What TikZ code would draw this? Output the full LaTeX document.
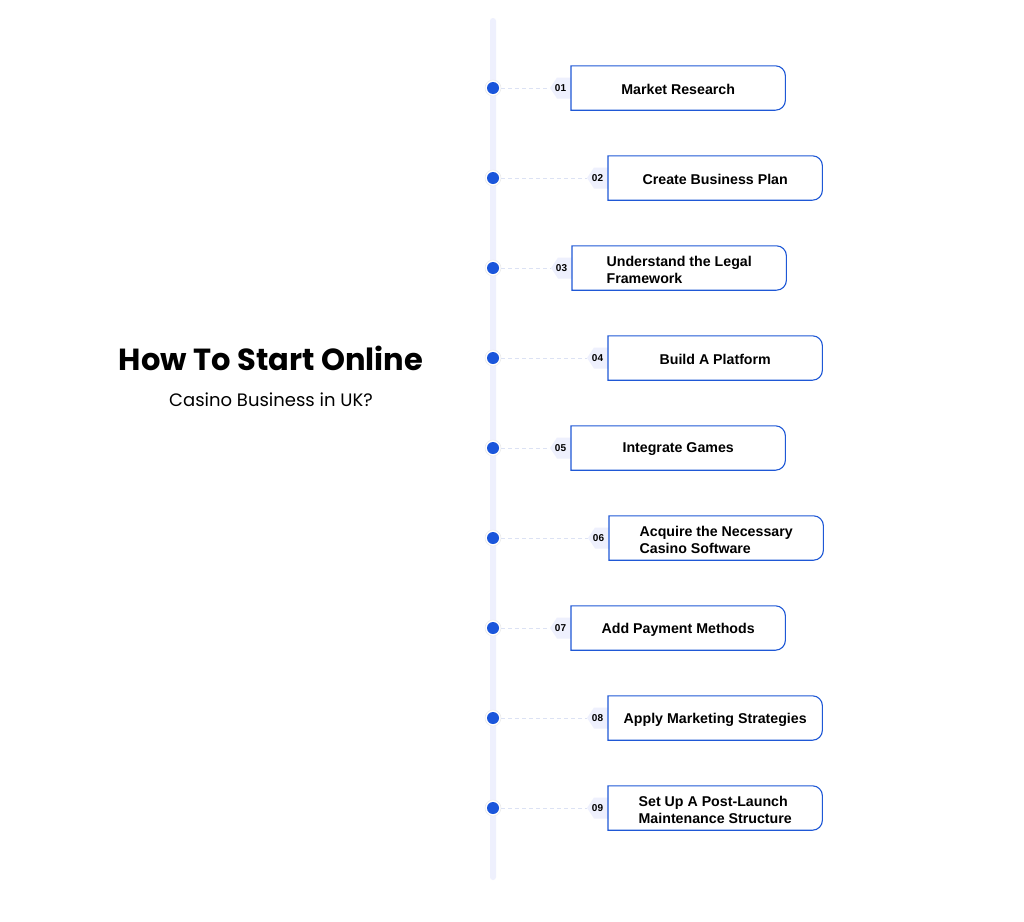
\documentclass[tikz,border=0pt]{standalone}
\usepackage{fontspec}
\setmainfont{Liberation Sans}
\newfontfamily\poppins{Poppins}
\definecolor{barcol}{HTML}{EEF0FD}
\definecolor{dotblue}{HTML}{1A56DB}
\definecolor{boxblue}{HTML}{1F58D6}
\definecolor{dashcol}{HTML}{DCE2F4}
\tikzset{
  stepbox/.style={minimum width=214pt, minimum height=44pt, inner sep=0pt},
  steplabel/.style={inner sep=0pt, font=\bfseries\fontsize{14.2}{17}\selectfont, align=left},
  numtxt/.style={font=\bfseries\fontsize{10}{11}\selectfont, inner sep=0pt},
  dotnode/.style={circle, fill=dotblue, minimum size=12pt, inner sep=0pt},
  halo/.style={circle, fill=white, draw=black!8, line width=0.6pt, minimum size=16pt, inner sep=0pt},
  conn/.style={dashcol, line width=0.9pt, dash pattern=on 4pt off 3pt},
  boxline/.style={boxblue, line width=1.1pt}
}
\newcommand{\stepitem}[5]{%
  % #1 name, #2 y, #3 box left x, #4 number, #5 text
  \node[halo] (h#1) at (493,-#2) {};
  \node[dotnode] (d#1) at (493,-#2) {};
  \node[stepbox, anchor=west] (b#1) at (#3,-#2) {};
  \node[steplabel] (l#1) at ([yshift=-1.5pt]b#1.center) {#5};
  \fill[barcol] (b#1.west) ++(0,10.5) -- ++(-14,0) -- ++(-7,-10.5) -- ++(7,-10.5) -- ++(14,0) -- cycle;
  \node[numtxt] (n#1) at ([xshift=-10.5pt,yshift=-0.5pt]b#1.west) {#4};
  \coordinate (t#1) at ([xshift=-21pt]b#1.west);
  \draw[conn] (h#1.east) -- (t#1);
  \draw[boxline] (b#1.south west) -- (b#1.north west) -- ([xshift=-10pt]b#1.north east) arc[start angle=90, end angle=0, radius=10pt] -- ([yshift=10pt]b#1.south east) arc[start angle=0, end angle=-90, radius=10pt] -- cycle;
}
\begin{document}
\begin{tikzpicture}[x=1pt,y=1pt]
\useasboundingbox (0,0) rectangle (1024,-921);
\fill[white] (0,0) rectangle (1024,-921);
\fill[barcol, rounded corners=3pt] (490,-18) rectangle (496,-880);
\node[font=\poppins\bfseries\fontsize{30.5}{36}\selectfont, inner sep=0pt] (title) at (271,-358) {How To Start Online};
\node[font=\poppins\fontsize{18}{22}\selectfont, inner sep=0pt] (sub) at (271,-400) {Casino Business in UK?};
\stepitem{1}{88}{571}{01}{Market Research}
\stepitem{2}{178}{608}{02}{Create Business Plan}
\stepitem{3}{268}{572}{03}{Understand the Legal\\Framework}
\stepitem{4}{358}{608}{04}{Build A Platform}
\stepitem{5}{448}{571}{05}{Integrate Games}
\stepitem{6}{538}{609}{06}{Acquire the Necessary\\Casino Software}
\stepitem{7}{628}{571}{07}{Add Payment Methods}
\stepitem{8}{718}{608}{08}{Apply Marketing Strategies}
\stepitem{9}{808}{608}{09}{Set Up A Post-Launch\\Maintenance Structure}
\end{tikzpicture}
\end{document}
